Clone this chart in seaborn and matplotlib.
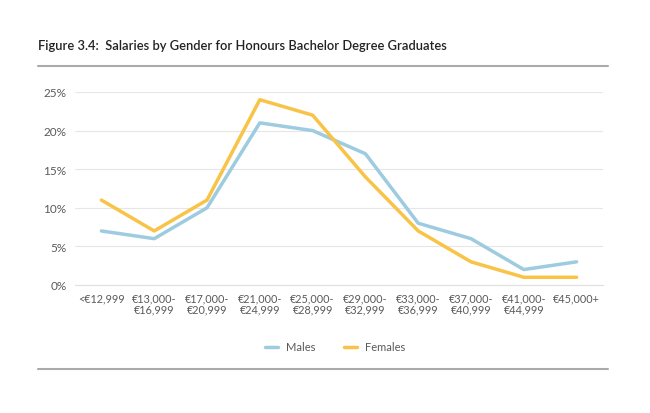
import matplotlib
matplotlib.use("Agg")
import matplotlib.pyplot as plt
import seaborn as sns
import pandas as pd
from matplotlib.lines import Line2D

categories = ["<€12,999", "€13,000-\n€16,999", "€17,000-\n€20,999", "€21,000-\n€24,999",
              "€25,000-\n€28,999", "€29,000-\n€32,999", "€33,000-\n€36,999", "€37,000-\n€40,999",
              "€41,000-\n€44,999", "€45,000+"]
males = [7, 6, 10, 21, 20, 17, 8, 6, 2, 3]
females = [11, 7, 11, 24, 22, 14, 7, 3, 1, 1]
yticks = [0, 5, 10, 15, 20, 25]
ytick_labels = ["0%", "5%", "10%", "15%", "20%", "25%"]

sns.set_theme(style="white")
plt.rcParams['font.family'] = ['Lato', 'DejaVu Sans']

df = pd.DataFrame({
    "x": list(range(len(categories))) * 2,
    "value": males + females,
    "Gender": ["Males"] * len(males) + ["Females"] * len(females),
})

male_c = "#9DCBE0"
female_c = "#F9C347"
text_c = "#5a5a5a"

fig = plt.figure(figsize=(6.5, 4.14), dpi=100)
ax = fig.add_axes([0.1154, 0.3092, 0.8123, 0.4662])

sns.lineplot(data=df, x="x", y="value", hue="Gender", palette={"Males": male_c, "Females": female_c},
             linewidth=2.5, ax=ax, legend=False, clip_on=False)

ax.set_xlim(-0.5, 9.5)
ax.set_ylim(0, 25)
ax.set_yticks(yticks)
ax.set_yticklabels(ytick_labels, fontsize=8.5, color=text_c)
ax.set_xticks(range(len(categories)))
ax.set_xticklabels(categories, fontsize=7.8, color=text_c, linespacing=1.1)
ax.tick_params(axis="both", length=0, pad=6)
ax.tick_params(axis="x", pad=5)
ax.set_xlabel("")
ax.set_ylabel("")
ax.grid(axis="y", color="#e6e6e6", linewidth=0.8)
ax.set_axisbelow(True)
for s in ["top", "right", "left"]:
    ax.spines[s].set_visible(False)
ax.spines["bottom"].set_color("#e0e0e0")
ax.spines["bottom"].set_linewidth(0.8)

handles = [Line2D([0], [0], color=male_c, lw=2.5), Line2D([0], [0], color=female_c, lw=2.5)]
fig.legend(handles, ["Males", "Females"], loc="center", bbox_to_anchor=(335 / 650, 1 - 348 / 414),
           ncol=2, frameon=False, fontsize=8, handlelength=1.2, handletextpad=0.7, columnspacing=2.6,
           labelcolor=text_c)

fig.text(38 / 650, 1 - 46 / 414, "Figure 3.4:  Salaries by Gender for Honours Bachelor Degree Graduates",
         fontsize=9.3, fontweight="semibold", color="#222222", va="center", ha="left")
fig.add_artist(Line2D([38 / 650, 608 / 650], [1 - 67 / 414, 1 - 67 / 414], color="#aaaaaa", lw=1.5))
fig.add_artist(Line2D([38 / 650, 608 / 650], [1 - 370 / 414, 1 - 370 / 414], color="#aaaaaa", lw=1.5))

fig.savefig("out.png", dpi=100, facecolor="white")
